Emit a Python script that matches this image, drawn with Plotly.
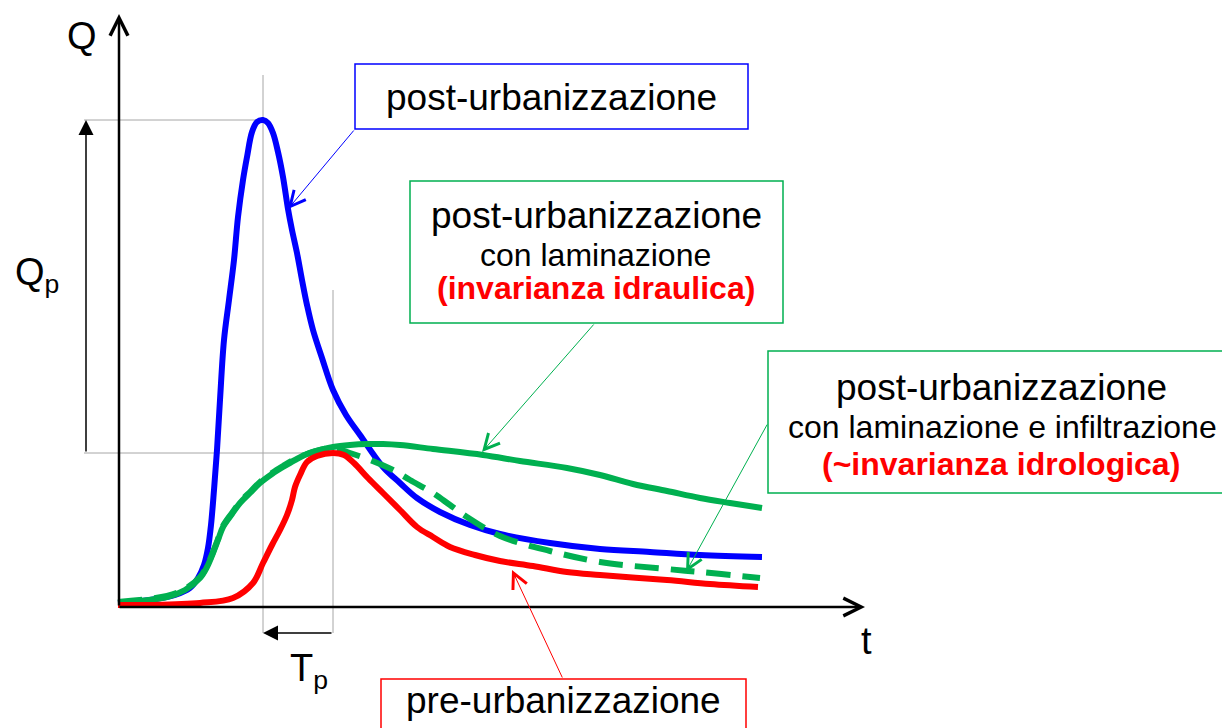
import plotly.graph_objects as go

# Hydrographs (t = time, Q = discharge, arbitrary units)
blue_t = [0, 3.2, 5.7, 7.2, 8.0, 8.6, 9.0, 9.3, 9.6, 9.9, 10.2, 10.6, 11.1, 11.6, 12.0,
          12.5, 12.9, 13.4, 13.9, 14.5, 15.0, 15.5, 16.0, 16.5, 17.0, 17.4, 17.9, 18.4,
          18.9, 19.5, 20.4, 21.5, 22.8, 24.2, 26.5, 28.2, 29.9, 32.2, 35.2, 38.2, 43.2,
          48.2, 53.2, 58.2, 64.4]
blue_q = [0.4, 0.7, 1.2, 1.9, 2.9, 4.2, 5.9, 8.2, 11.7, 15.7, 20.7, 26.7, 30.7, 34.7, 39.0,
          42.7, 45.0, 47.5, 48.5, 48.7, 48.4, 47.4, 45.5, 43.0, 39.8, 37.7, 35.4, 32.7,
          30.2, 27.7, 24.9, 21.7, 19.2, 17.2, 14.0, 12.4, 10.9, 9.5, 8.2, 7.3, 6.4,
          5.8, 5.5, 5.2, 5.0]

red_t = [0, 3.2, 8.2, 11.5, 13.5, 14.5, 15.4, 16.2, 16.9, 17.4, 17.7, 18.2, 18.9, 19.9,
         21.5, 22.6, 23.6, 25.0, 26.5, 28.2, 29.9, 31.5, 33.2, 35.7, 38.2, 41.5, 44.9,
         48.2, 54.9, 59.2, 64.0]
red_q = [0.2, 0.2, 0.4, 0.9, 2.4, 4.4, 6.2, 7.7, 9.2, 10.7, 12.0, 13.2, 14.5, 15.1,
         15.4, 15.2, 14.4, 12.9, 11.4, 9.7, 8.0, 7.0, 6.0, 5.2, 4.6, 4.1, 3.5,
         3.2, 2.7, 2.3, 2.0]

green_t = [0, 4.9, 6.7, 8.2, 8.9, 9.5, 10.0, 10.5, 11.4, 12.2, 13.2, 14.2, 15.4, 16.5,
           17.7, 18.9, 20.2, 21.5, 23.2, 24.9, 26.5, 28.2, 31.5, 36.5, 40.2, 44.9, 48.2,
           51.5, 54.9, 58.2, 61.2, 64.4]
green_q = [0.4, 1.0, 1.7, 2.9, 4.0, 5.4, 6.7, 8.0, 9.3, 10.4, 11.4, 12.4, 13.3, 14.0,
           14.7, 15.3, 15.7, 16.0, 16.2, 16.3, 16.3, 16.2, 15.8, 15.2, 14.6, 13.9, 13.2,
           12.3, 11.6, 10.9, 10.4, 9.9]

dash_t = [0, 4.9, 6.7, 8.2, 8.9, 9.5, 10.0, 10.5, 11.4, 12.2, 13.2, 14.2, 15.4, 16.5,
          17.7, 18.9, 20.2, 21.5, 23.2, 25.2, 27.5, 29.2, 31.5, 33.2, 34.9, 38.2, 43.2,
          48.2, 54.9, 58.2, 63.2, 64.2]
dash_q = [0.5, 1.1, 1.8, 3.0, 4.1, 5.5, 6.8, 8.1, 9.4, 10.5, 11.5, 12.5, 13.4, 14.1,
          14.8, 15.3, 15.7, 15.9, 15.4, 14.7, 13.7, 12.7, 11.4, 10.2, 9.0, 7.1, 5.6,
          4.5, 3.8, 3.5, 3.0, 2.9]

BLUE = "#0000ff"
RED = "#ff0000"
GREEN = "#00b050"
GREY = "#a6a6a6"
FONT = "Liberation Sans, Arial, sans-serif"
BIG = 37
SMALL = 32
LW = 6


def arrow(fig, tail, tip, color="black", width=1.0, head=5, size=3.0):
    fig.add_annotation(
        x=tip[0], y=tip[1], ax=tail[0], ay=tail[1],
        xref="x", yref="y", axref="x", ayref="y",
        text="", showarrow=True, arrowhead=head, arrowsize=size,
        arrowwidth=width, arrowcolor=color, standoff=0, startstandoff=0,
    )


def label(fig, x, y, text, size=BIG, color="black", xanchor="center"):
    fig.add_annotation(
        x=x, y=y, xref="x", yref="y", text=text, showarrow=False,
        xanchor=xanchor, yanchor="middle",
        font=dict(family=FONT, size=size, color=color),
    )


def box(fig, x0, y0, x1, y1, color):
    fig.add_shape(type="rect", x0=x0, y0=y0, x1=x1, y1=y1, xref="x", yref="y",
                  line=dict(color=color, width=1.5), fillcolor="white")


def guide(fig, x0, y0, x1, y1):
    fig.add_shape(type="line", x0=x0, y0=y0, x1=x1, y1=y1, xref="x", yref="y",
                  line=dict(color=GREY, width=1), layer="below")


fig = go.Figure()
fig.add_trace(go.Scatter(x=blue_t, y=blue_q, mode="lines", line=dict(color=BLUE, width=LW, shape="spline")))
fig.add_trace(go.Scatter(x=green_t, y=green_q, mode="lines", line=dict(color=GREEN, width=LW, shape="spline")))
fig.add_trace(go.Scatter(x=dash_t, y=dash_q, mode="lines",
                         line=dict(color=GREEN, width=LW, dash="24px,12px", shape="spline")))
fig.add_trace(go.Scatter(x=red_t, y=red_q, mode="lines", line=dict(color=RED, width=LW, shape="spline")))

# peak positions come from the data
ib = blue_q.index(max(blue_q))
ir = red_q.index(max(red_q))
tb, qb = blue_t[ib], blue_q[ib]
tr, qr = red_t[ir], red_q[ir]
q_arrow_t = -3.2
t_arrow_q = -2.6

guide(fig, tb, 53.2, tb, t_arrow_q)
guide(fig, tr, 31.7, tr, t_arrow_q)
guide(fig, -3.4, qb, tb, qb)
guide(fig, -3.4, qr, tr, qr)

# axes
arrow(fig, (0.1, 0), (0.1, 59.3), width=2.5, head=5, size=1.4)
arrow(fig, (0, 0), (74.7, 0), width=2.5, head=5, size=1.4)
label(fig, -3.6, 57.1, "Q", size=38)
label(fig, 74.8, -3.4, "t", size=38)

# Qp and Tp
arrow(fig, (q_arrow_t, qr), (q_arrow_t, qb), width=1.5, head=2, size=2)
arrow(fig, (tr, t_arrow_q), (tb, t_arrow_q), width=1.5, head=2, size=2)
label(fig, -10.5, 33.2, "Q<sub>p</sub>", size=38, xanchor="left")
label(fig, 17.0, -6.4, "T<sub>p</sub>", size=38, xanchor="left")

# callout boxes
box(fig, 23.7, 54.3, 63.0, 47.8, BLUE)
label(fig, 43.3, 51.0, "post-urbanizzazione")
arrow(fig, (23.7, 47.8), (17.0, 39.8), color=BLUE)

box(fig, 29.2, 42.6, 66.5, 28.4, GREEN)
label(fig, 47.8, 39.2, "post-urbanizzazione")
label(fig, 47.7, 35.2, "con laminazione", size=SMALL)
label(fig, 47.8, 31.9, "<b>(invarianza idraulica)</b>", size=SMALL, color=RED)
arrow(fig, (47.7, 28.4), (36.4, 15.5), color=GREEN)

box(fig, 65.0, 25.6, 110.9, 11.4, GREEN)
label(fig, 88.3, 22.0, "post-urbanizzazione")
label(fig, 88.4, 18.0, "con laminazione e infiltrazione", size=SMALL)
label(fig, 88.3, 14.3, "<b>(~invarianza idrologica)</b>", size=SMALL, color=RED)
arrow(fig, (65.0, 18.4), (56.8, 3.5), color=GREEN)

box(fig, 26.3, -7.2, 62.8, -13.0, RED)
label(fig, 44.5, -9.3, "pre-urbanizzazione")
arrow(fig, (44.5, -7.2), (39.4, 3.7), color=RED)

fig.update_layout(
    width=1222, height=728,
    margin=dict(l=0, r=0, t=0, b=0),
    paper_bgcolor="white", plot_bgcolor="white",
    showlegend=False,
    xaxis=dict(range=[-11.8, 110.4], visible=False, fixedrange=True),
    yaxis=dict(range=[-12.1, 60.7], visible=False, fixedrange=True),
)

fig.write_html("out.html", config={"displayModeBar": False},
               post_script="document.body.style.margin='0';")
